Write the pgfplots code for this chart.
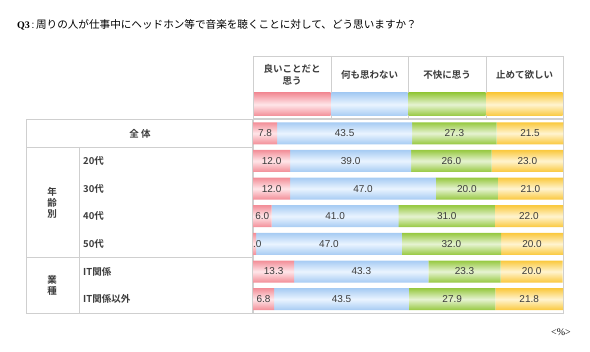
\documentclass[border=0pt]{standalone}
\usepackage{pgfplots}
\pgfplotsset{compat=1.18}
\usepackage{fontspec}
\setmainfont{Liberation Sans}
\newfontfamily\serifq{Liberation Serif}
\newfontfamily\cjk{Noto Sans CJK JP}[BoldFont={Noto Sans CJK JP Bold}]
\definecolor{pinkD}{HTML}{F28D97}
\definecolor{pinkL}{HTML}{FFE6E9}
\definecolor{blueD}{HTML}{A6CBF3}
\definecolor{blueL}{HTML}{EAF4FF}
\definecolor{greenD}{HTML}{96C83F}
\definecolor{greenL}{HTML}{E6F3D2}
\definecolor{yelD}{HTML}{FAC83C}
\definecolor{yelL}{HTML}{FFF4D0}
\definecolor{numc}{HTML}{3C3C3C}
\definecolor{gridc}{HTML}{CFCFCF}
% single-bar shadings (header swatches)
\newcommand\mkone[3]{\pgfdeclareverticalshading{#1}{100bp}{color(0bp)=(#2); color(25bp)=(#2); color(50bp)=(#3); color(75bp)=(#2); color(100bp)=(#2)}}
\mkone{pinkS}{pinkD}{pinkL}
\mkone{blueS}{blueD}{blueL}
\mkone{greenS}{greenD}{greenL}
\mkone{yelS}{yelD}{yelL}
% seven-bar shadings (one plot path spans all seven bars)
\newcommand\mkseven[3]{\pgfdeclareverticalshading{#1}{100bp}{color(0bp)=(#2); color(25bp)=(#2);
 color(27.928bp)=(#3); color(30.856bp)=(#2); color(32.358bp)=(#2);
 color(35.285bp)=(#3); color(38.213bp)=(#2); color(39.715bp)=(#2);
 color(42.643bp)=(#3); color(45.570bp)=(#2); color(47.073bp)=(#2);
 color(50.000bp)=(#3); color(52.928bp)=(#2); color(54.430bp)=(#2);
 color(57.358bp)=(#3); color(60.285bp)=(#2); color(61.788bp)=(#2);
 color(64.715bp)=(#3); color(67.643bp)=(#2); color(69.145bp)=(#2);
 color(72.073bp)=(#3); color(75bp)=(#2); color(100bp)=(#2)}}
\mkseven{pinkB}{pinkD}{pinkL}
\mkseven{blueB}{blueD}{blueL}
\mkseven{greenB}{greenD}{greenL}
\mkseven{yelB}{yelD}{yelL}
\begin{document}
\begin{tikzpicture}[x=1pt,y=1pt]
\useasboundingbox (0,0) rectangle (590,-352);
% title
\node[anchor=base west, inner sep=0pt, text=black] at (17,-29)
  {{\serifq\bfseries Q3}\,:\,{\cjk\fontsize{10.6}{12}\selectfont 周りの人が仕事中にヘッドホン等で音楽を聴くことに対して、どう思いますか？}};
% header block
\draw[gridc, line width=0.6pt] (253,-56) rectangle (563,-118);
\foreach \xx in {331,408,486} \draw[gridc, line width=0.6pt] (\xx,-56) -- (\xx,-118);
\shade[shading=pinkS] (254,-93) rectangle (330.5,-116);
\shade[shading=blueS] (331.5,-93) rectangle (407.5,-116);
\shade[shading=greenS] (408.5,-93) rectangle (485.5,-116);
\shade[shading=yelS] (486.5,-93) rectangle (562.5,-116);
\begin{scope}[every node/.style={text=numc, font=\cjk\bfseries\fontsize{9.5}{12}\selectfont, align=center, inner sep=0pt}]
\node at (292,-74.5) {良いことだと\\思う};
\node at (369.5,-75) {何も思わない};
\node at (447,-75) {不快に思う};
\node at (524.5,-75) {止めて欲しい};
\end{scope}
% bars frame
\draw[gridc, line width=0.6pt] (253,-119.5) rectangle (563,-313);
\begin{axis}[
  at={(253pt,-313pt)}, anchor=south west,
  scale only axis, width=310pt, height=193.5pt,
  xbar stacked, bar width=22pt,
  xmin=0, xmax=100, ymin=-0.5, ymax=6.5, y dir=reverse,
  hide axis, clip=false,
  /pgf/number format/assume math mode=true,
  visualization depends on={rawx \as \rawx},
  nodes near coords={\pgfmathprintnumber[fixed,fixed zerofill,precision=1,assume math mode=true]{\rawx}},
  every node near coord/.append style={font=\fontsize{10}{12}\selectfont, text=numc, anchor=center},
]
\addplot[draw=none, shade, shading=pinkB] coordinates {(7.8,0) (12.0,1) (12.0,2) (6.0,3) (1.0,4) (13.3,5) (6.8,6)};
\addplot[draw=none, shade, shading=blueB] coordinates {(43.5,0) (39.0,1) (47.0,2) (41.0,3) (47.0,4) (43.3,5) (43.5,6)};
\addplot[draw=none, shade, shading=greenB] coordinates {(27.3,0) (26.0,1) (20.0,2) (31.0,3) (32.0,4) (23.3,5) (27.9,6)};
\addplot[draw=none, shade, shading=yelB] coordinates {(21.5,0) (23.0,1) (21.0,2) (22.0,3) (20.0,4) (20.0,5) (21.8,6)};
\end{axis}
% left table (drawn after to cover overflow)
\draw[gridc, line width=0.6pt, fill=white] (26,-119.5) rectangle (252,-313);
\draw[gridc, line width=0.6pt] (26,-147) -- (252,-147);
\draw[gridc, line width=0.6pt] (26,-257.5) -- (252,-257.5);
\draw[gridc, line width=0.6pt] (79,-147) -- (79,-313);
\begin{scope}[every node/.style={text=numc, font=\cjk\bfseries\fontsize{9.5}{12}\selectfont, inner sep=0pt}]
\node at (140,-133.5) {全\ 体};
\node[align=center] at (52,-203) {年\\[-1pt]齢\\[-1pt]別};
\node[align=center] at (52,-285.5) {業\\[-1pt]種};
\node[anchor=west] at (83,-161) {20代};
\node[anchor=west] at (83,-188.6) {30代};
\node[anchor=west] at (83,-216.2) {40代};
\node[anchor=west] at (83,-243.9) {50代};
\node[anchor=west] at (83,-271.5) {IT関係};
\node[anchor=west] at (83,-299.2) {IT関係以外};
\end{scope}
\node[anchor=base east, inner sep=0pt, font=\serifq\fontsize{10}{12}\selectfont] at (571,-336) {<\%>};
\end{tikzpicture}
\end{document}
